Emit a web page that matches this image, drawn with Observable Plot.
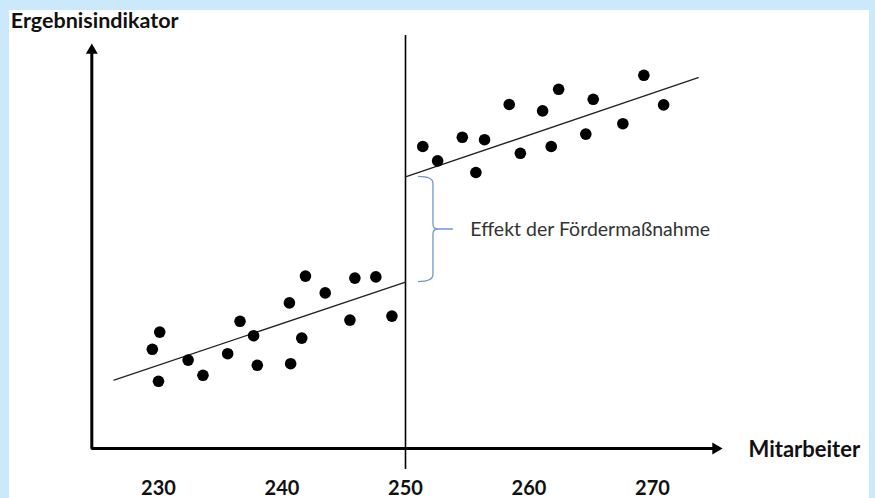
<!DOCTYPE html>
<html><head><meta charset="utf-8">
<script src="https://cdn.jsdelivr.net/npm/d3@7"></script>
<script src="https://cdn.jsdelivr.net/npm/@observablehq/plot@0.6"></script>
<style>
body{margin:0;background:#cce9fb;width:875px;height:498px;overflow:hidden;position:relative}
#paper{position:absolute;left:9px;top:10px;width:860px;height:488px;background:#fff}
#chart{position:absolute;left:0;top:0}
</style></head><body><div id="paper"></div><div id="chart"></div>
<script>
// Data; y is an unlabelled index in arbitrary units
const xTicks = [230, 240, 250, 260, 270];
const cutoff = 250;
const beforeX = [229.5, 230.1, 230.0, 232.4, 233.6, 235.6, 236.6, 237.7, 238.0, 240.6, 240.7, 241.6, 241.9, 243.5, 245.5, 245.9, 247.6, 248.9];
const beforeY = [24.8, 29.1, 16.8, 22.1, 18.3, 23.7, 31.8, 28.2, 20.8, 36.4, 21.2, 27.6, 43.1, 38.9, 32.1, 42.6, 42.9, 33.1];
const afterX = [251.4, 252.6, 254.6, 255.7, 256.4, 258.4, 259.3, 261.1, 261.8, 262.4, 264.6, 265.2, 267.6, 269.3, 270.9];
const afterY = [75.5, 71.9, 77.8, 69.0, 77.2, 86.0, 73.8, 84.4, 75.5, 89.8, 78.6, 87.3, 81.2, 93.3, 85.9];
const fitBeforeX = [226.4, 250];
const fitBeforeY = [17.1, 41.6];
const fitAfterX = [250, 273.7];
const fitAfterY = [67.9, 92.7];
// axis frame (origin, arrow tips) and annotation anchors
const originX = 224.6, xAxisTip = 275.67, yAxisTip = 101.25;
const cutTop = 103.25, cutBottom = -5.25;
const braceX = 251.05, labelX = 255.25;
const labels = {y: "Ergebnisindikator", x: "Mitarbeiter", effect: "Effekt der Fördermaßnahme"};

const zip = (xs, ys) => xs.map((x, i) => ({x, y: ys[i]}));
const before = zip(beforeX, beforeY), after = zip(afterX, afterY);
const fitB = zip(fitBeforeX, fitBeforeY), fitA = zip(fitAfterX, fitAfterY);
const braceTop = fitAfterY[0], braceBottom = fitBeforeY[1];
const braceMid = (braceTop + braceBottom) / 2;
const axisPath = [{x: originX, y: yAxisTip - 2}, {x: originX, y: 0}, {x: xAxisTip - 0.7, y: 0}];

const font = "Lato, 'Open Sans', sans-serif";
const plot = Plot.plot({
  width: 875, height: 498,
  marginTop: 0, marginLeft: 0, marginRight: 0, marginBottom: 50,
  style: {background: "transparent", fontFamily: font, color: "#111"},
  x: {domain: [230, 270], range: [158, 652], label: null},
  y: {domain: [0, 100], range: [448, 48], axis: null},
  marks: [
    Plot.axisX(xTicks, {tickSize: 0, tickPadding: 32.3, fontSize: 20, fontWeight: "bold", tickFormat: d => String(d), label: null}),
    Plot.ruleX([cutoff], {y1: cutBottom, y2: cutTop, stroke: "black", strokeWidth: 1.6}),
    Plot.line(axisPath, {x: "x", y: "y", stroke: "black", strokeWidth: 3, strokeLinejoin: "miter", strokeLinecap: "butt"}),
    Plot.dot([{x: originX, y: yAxisTip}], {x: "x", y: "y", symbol: "triangle", r: 4.4, fill: "black", stroke: null, dy: 6.8}),
    Plot.dot([{x: xAxisTip, y: 0}], {x: "x", y: "y", symbol: "triangle", rotate: 90, r: 4.4, fill: "black", stroke: null, dx: -6.8}),
    Plot.line(fitB, {x: "x", y: "y", stroke: "#222", strokeWidth: 1.4}),
    Plot.line(fitA, {x: "x", y: "y", stroke: "#222", strokeWidth: 1.4}),
    Plot.dot(before, {x: "x", y: "y", r: 5.8, fill: "black"}),
    Plot.dot(after, {x: "x", y: "y", r: 5.8, fill: "black"}),
    Plot.text([labels.y], {x: originX, y: yAxisTip, dx: -81, dy: -16, textAnchor: "start", lineAnchor: "bottom", fontSize: 21.5, fontWeight: "bold", fill: "#111"}),
    Plot.text([labels.x], {x: xAxisTip, y: 0, dx: 26, dy: 1.5, textAnchor: "start", lineAnchor: "middle", fontSize: 22, fontWeight: "bold", fill: "#111"}),
    Plot.text([labels.effect], {x: labelX, y: braceMid, textAnchor: "start", lineAnchor: "middle", fontSize: 19.5, fill: "#333"})
  ]
});

// curly brace spanning the jump at the cutoff, positioned through Plot's scales
const sxd = plot.scale("x"), syd = plot.scale("y");
const sx = sxd.apply ? sxd.apply : d3.scaleLinear(sxd.domain, sxd.range);
const sy = syd.apply ? syd.apply : d3.scaleLinear(syd.domain, syd.range);
const x0 = sx(braceX), yT = sy(braceTop), yB = sy(braceBottom), ym = (yT + yB) / 2;
const xv = x0 + 15, xt = x0 + 35, r = 7, r2 = 5;
const p = d3.path();
p.moveTo(x0, yT); p.quadraticCurveTo(xv, yT, xv, yT + r);
p.lineTo(xv, ym - r2); p.quadraticCurveTo(xv, ym, xv + r2, ym); p.lineTo(xt, ym);
p.moveTo(xv + r2, ym); p.quadraticCurveTo(xv, ym, xv, ym + r2);
p.lineTo(xv, yB - r); p.quadraticCurveTo(xv, yB, x0, yB);
d3.select(plot).append("path").attr("d", p.toString()).attr("fill", "none")
  .attr("stroke", "#7395d3").attr("stroke-width", 1.3);

document.getElementById("chart").append(plot);
</script></body></html>
